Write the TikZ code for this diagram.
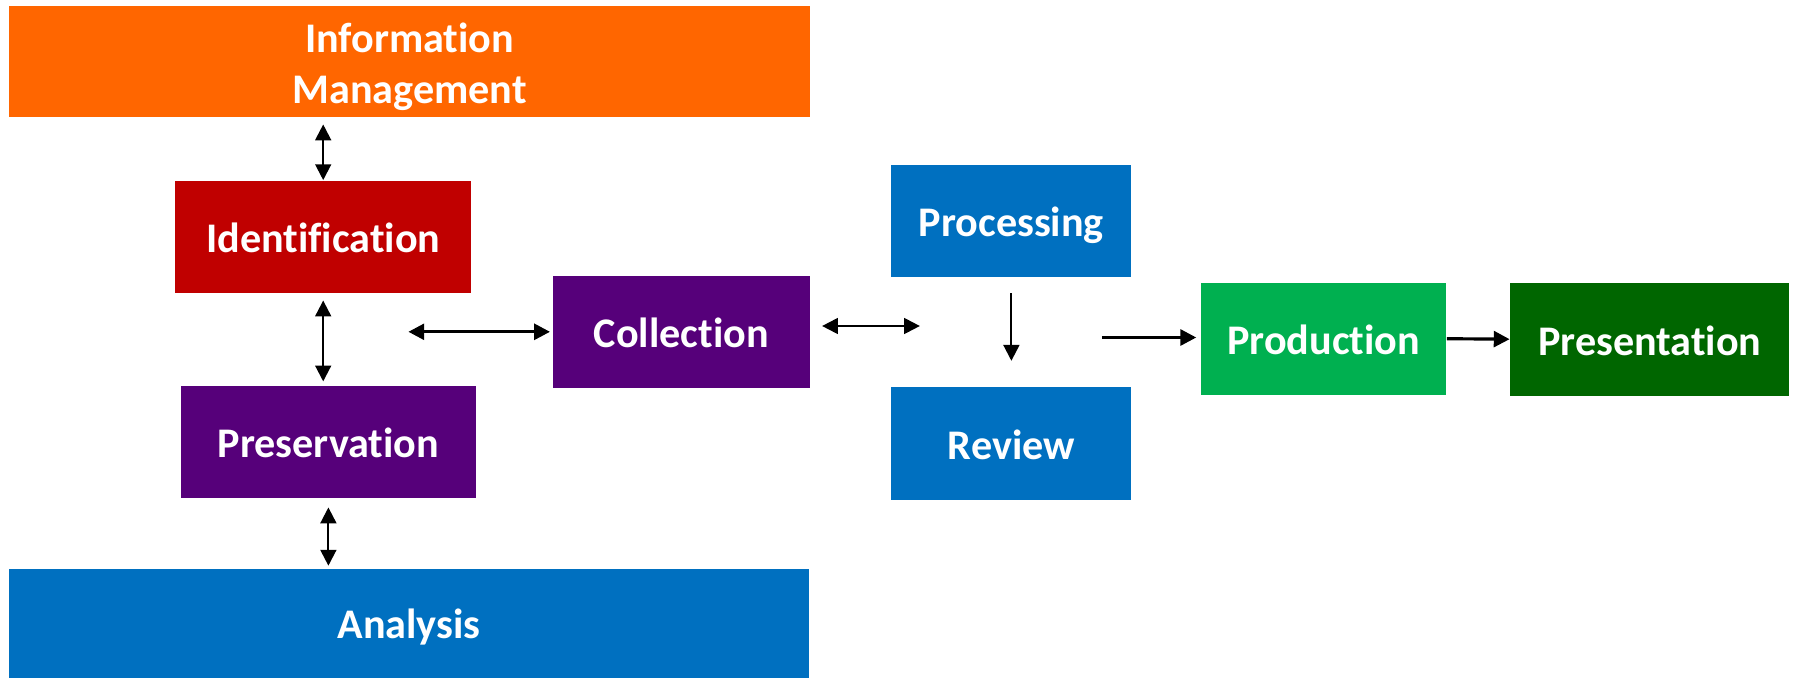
\documentclass[tikz,border=0pt]{standalone}
\usepackage{fontspec}
\setmainfont{Carlito}[Ligatures=NoCommon]
\usetikzlibrary{arrows.meta}
\usetikzlibrary{positioning}
\definecolor{mgmtorange}{HTML}{FF6600}
\definecolor{identred}{HTML}{C00000}
\definecolor{stagepurple}{HTML}{56007A}
\definecolor{stageblue}{HTML}{0070C0}
\definecolor{prodgreen}{HTML}{00B050}
\definecolor{presgreen}{HTML}{006600}
\newcommand{\lowline}[1]{\raisebox{-1.6pt}[\height][\depth]{#1}}
\tikzset{
	every node/.append style={align=center},
	stage/.style={fill=#1,
		    text=white,
		    font=\fontsize{12}{14.5}\selectfont\bfseries,
		    inner sep=0pt,
		    text height=10pt,
		    text depth=1pt,
		    minimum height=1.12cm},
	twoline/.style={text height=, text depth=},
	link/.style={line width=0.6pt,
		    >={Triangle[length=4.5pt,width=4.5pt]}},
	heavylink/.style={link, line width=0.9pt}
}

\begin{document}
\begin{tikzpicture}
	\useasboundingbox (0,0) rectangle (17.94,-6.78);

	\node [stage=mgmtorange, twoline, minimum width=8.01cm, minimum height=1.11cm] (infomgmt) at (4.096,-0.612) {\lowline{Information}\\\lowline{Management}};
	\node [stage=identred, minimum width=2.96cm] (identification) at (3.232,-2.368) {Identification};
	\node [stage=stagepurple, minimum width=2.95cm] (preservation) at (3.284,-4.416) {Preservation};
	\node [stage=stageblue, minimum width=8.0cm, minimum height=1.09cm] (analysis) at (4.09,-6.23) {Analysis};
	\node [stage=stagepurple, minimum width=2.57cm] (collection) at (6.813,-3.318) {Collection};
	\node [stage=stageblue, minimum width=2.40cm] (processing) at (10.114,-2.208) {Processing};
	\node [stage=stageblue, minimum width=2.40cm, minimum height=1.13cm] (review) at (10.114,-4.433) {Review};
	\node [stage=prodgreen, minimum width=2.45cm] (production) at (13.237,-3.387) {Production};
	\node [stage=presgreen, minimum width=2.79cm, minimum height=1.13cm] (presentation) at (16.498,-3.392) {Presentation};

	\coordinate (collin) at (4.084,-3.318);
	\coordinate (reviewin) at (9.199,-3.26);
	\coordinate (prodin) at (11.018,-3.375);

	\draw [link, <->, shorten <=2pt] (infomgmt.south -| identification.north) -- (identification.north);
	\draw [link, <->, shorten <=2pt, shorten >=1pt] (identification.south) -- (identification.south |- preservation.north);
	\draw [link, <->, shorten <=2.6pt, shorten >=0.6pt] (preservation.south) -- (preservation.south |- analysis.north);
	\draw [heavylink, <->, shorten >=0.6pt] (collin) -- (collection.west);
	\draw [link, <->, shorten <=3.3pt] (collection.east |- reviewin) -- (reviewin);
	\draw [link, ->, shorten <=4.5pt, shorten >=7.2pt] (processing.south) -- (review.north);
	\draw [heavylink, ->, shorten >=1.2pt] (prodin) -- (production.west |- prodin);
	\draw [heavylink, ->] (production.east) -- (presentation.west);

\end{tikzpicture}
\end{document}
